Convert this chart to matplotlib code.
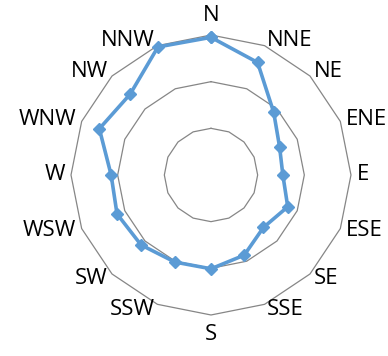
import numpy as np
import matplotlib
matplotlib.use("Agg")
import matplotlib.pyplot as plt

# wind directions, clockwise from north
directions = ["N", "NNE", "NE", "ENE", "E", "ESE", "SE", "SSE",
              "S", "SSW", "SW", "WSW", "W", "WNW", "NW", "NNW"]
values = [2.95, 2.61, 1.90, 1.59, 1.54, 1.78, 1.59, 1.86,
          2.01, 2.02, 2.12, 2.18, 2.14, 2.59, 2.45, 2.97]
rings = [1, 2, 3]

plt.rcParams['font.family'] = ['Open Sans', 'DejaVu Sans']

fig = plt.figure(figsize=(3.88, 3.56), dpi=100)
ax = fig.add_axes([0.1830, 0.1152, 0.7216, 0.7865], projection='polar')
ax.set_theta_zero_location('N')
ax.set_theta_direction(-1)
ax.set_ylim(0, 3)
ax.grid(False)
ax.spines['polar'].set_visible(False)
ax.set_xticks([])
ax.set_yticks([])
ax.patch.set_visible(False)

angles = np.linspace(0, 2 * np.pi, len(directions), endpoint=False)
closed = np.append(angles, angles[0])

# polygon gridlines
for r in rings:
    ax.plot(closed, [r] * len(closed), color='#868686', lw=0.9, clip_on=False, zorder=1)

# data series
ax.plot(closed, values + values[:1], color='#5B9BD5', lw=2.6, marker='D',
        markersize=6.3, clip_on=False, zorder=3)

# direction labels
for ang, lab in zip(angles, directions):
    deg = np.degrees(ang)
    if np.isclose(deg, 0):
        ax.text(ang, 3.2, lab, ha='center', va='bottom', fontsize=16)
    elif np.isclose(deg, 180):
        ax.text(ang, 3.2, lab, ha='center', va='top', fontsize=16)
    elif deg < 180:
        ax.text(ang, 3.13, lab, ha='left', va='center', fontsize=16)
    else:
        ax.text(ang, 3.13, lab, ha='right', va='center', fontsize=16)

fig.savefig("out.png", dpi=100)
